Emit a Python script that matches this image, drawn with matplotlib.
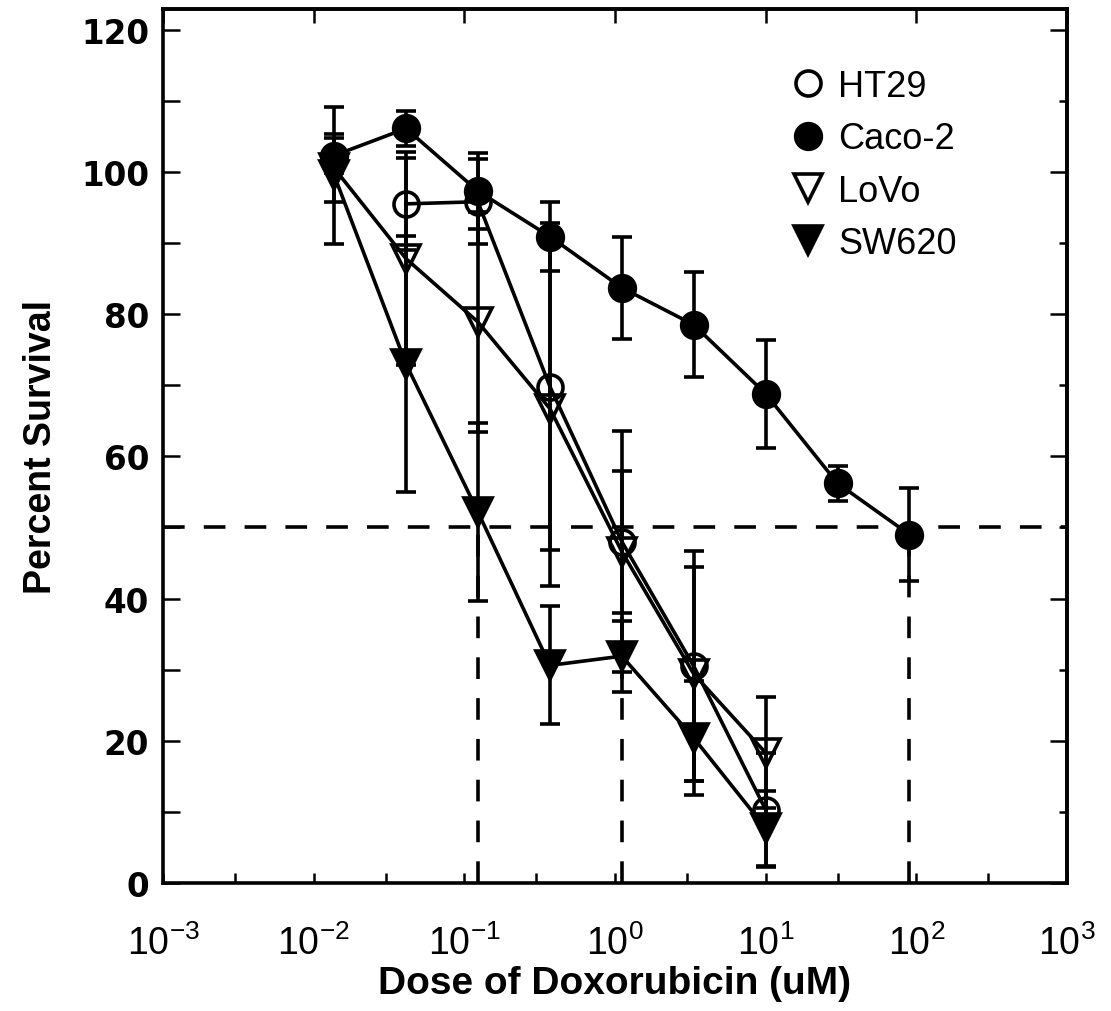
import matplotlib
matplotlib.use("Agg")
import matplotlib.pyplot as plt
from matplotlib.lines import Line2D
from matplotlib.ticker import FixedLocator, FixedFormatter, NullFormatter, NullLocator, MultipleLocator

plt.rcParams['font.family'] = ['Liberation Sans', 'DejaVu Sans']

# dose series (uM), 3-fold dilutions
caco2_x = [0.0137, 0.041, 0.123, 0.37, 1.11, 3.33, 10, 30, 90]
caco2_y = [102.3, 106.1, 97.3, 90.9, 83.7, 78.5, 68.8, 56.2, 49.0]
caco2_err = [2.5, 2.5, 5.4, 4.8, 7.2, 7.4, 7.6, 2.5, 6.6]

ht29_x = [0.041, 0.123, 0.37, 1.11, 3.33, 10]
ht29_y = [95.5, 95.8, 69.8, 48.0, 30.5, 10.3]
ht29_err = [6.5, 6.0, 23.0, 10.0, 16.2, 8.0]

lovo_x = [0.0137, 0.041, 0.123, 0.37, 1.11, 3.33, 10]
lovo_y = [100.5, 87.8, 78.9, 66.7, 46.6, 29.4, 18.3]
lovo_err = [4.8, 15.0, 15.5, 25.0, 17.0, 15.0, 7.8]

sw620_x = [0.0137, 0.041, 0.123, 0.37, 1.11, 3.33, 10]
sw620_y = [99.5, 73.0, 52.2, 30.6, 31.9, 20.4, 7.7]
sw620_err = [9.6, 18.0, 12.5, 8.3, 5.0, 8.0, 5.3]

ic50_level = 50
ic50_x = [0.123, 1.11, 90]

decades = [1e-3, 1e-2, 1e-1, 1e0, 1e1, 1e2, 1e3]
decade_labels = [r'$\mathregular{10^{-3}}$', r'$\mathregular{10^{-2}}$', r'$\mathregular{10^{-1}}$',
                 r'$\mathregular{10^{0}}$', r'$\mathregular{10^{1}}$', r'$\mathregular{10^{2}}$',
                 r'$\mathregular{10^{3}}$']
minor_x = [3e-3, 3e-2, 3e-1, 3e0, 3e1, 3e2]

fig = plt.figure(figsize=(11.11, 10.12), dpi=100)
ax = fig.add_axes([0.1467, 0.1265, 0.8137, 0.8636])

lw = 2.6
dash = (0, (6.0, 5.3))
ax.axhline(ic50_level, color='k', lw=lw, linestyle=dash, zorder=1)
ax.vlines(ic50_x, 0, ic50_level, color='k', lw=lw, linestyles=[dash], zorder=1)

common = dict(color='k', lw=lw, elinewidth=lw, capsize=7.5, capthick=lw, mew=2.6, zorder=3)
ax.errorbar(caco2_x, caco2_y, yerr=caco2_err, marker='o', ms=18.5, mfc='k', mec='k', **common)
ax.errorbar(ht29_x, ht29_y, yerr=ht29_err, marker='o', ms=18, mfc='none', mec='k', **common)
ax.errorbar(lovo_x, lovo_y, yerr=lovo_err, marker='v', ms=20, mfc='none', mec='k', **common)
ax.errorbar(sw620_x, sw620_y, yerr=sw620_err, marker='v', ms=20, mfc='k', mec='k', **common)

ax.set_xscale('log')
ax.set_xlim(1e-3, 1e3)
ax.set_ylim(0, 122.9)

# bottom axis: decades + 3x ticks
ax.xaxis.set_major_locator(FixedLocator(decades))
ax.xaxis.set_major_formatter(FixedFormatter(decade_labels))
ax.xaxis.set_minor_locator(FixedLocator(minor_x))
ax.xaxis.set_minor_formatter(NullFormatter())
ax.tick_params(axis='x', which='both', direction='in', length=7, width=1.8, pad=30, labelsize=27)

# left axis
ax.yaxis.set_major_locator(MultipleLocator(20))
ax.yaxis.set_minor_locator(MultipleLocator(10))
ax.tick_params(axis='y', which='both', direction='in', length=12, width=1.8, pad=10,
               labelsize=23.5, labelfontfamily='DejaVu Sans')
for t in ax.get_yticklabels():
    t.set_fontweight('bold')

# top and right axes
top = ax.secondary_xaxis('top')
top.xaxis.set_major_locator(FixedLocator(decades))
top.xaxis.set_minor_locator(NullLocator())
top.tick_params(axis='x', direction='in', length=10, width=1.8, labeltop=False)
right = ax.secondary_yaxis('right')
right.yaxis.set_major_locator(MultipleLocator(20))
right.yaxis.set_minor_locator(MultipleLocator(10))
right.tick_params(axis='y', which='major', direction='in', length=12, width=1.8, labelright=False)
right.tick_params(axis='y', which='minor', direction='in', length=6, width=1.8)

for a in (ax, top, right):
    for s in a.spines.values():
        s.set_linewidth(2.6)

ax.set_xlabel('Dose of Doxorubicin (uM)', fontsize=28, fontweight='bold', labelpad=2)
ax.set_ylabel('Percent Survival', fontsize=27, fontweight='bold', labelpad=16)

handles = [
    Line2D([], [], ls='none', marker='o', ms=18, mfc='none', mec='k', mew=2.6),
    Line2D([], [], ls='none', marker='o', ms=18.5, mfc='k', mec='k', mew=2.6),
    Line2D([], [], ls='none', marker='v', ms=20, mfc='none', mec='k', mew=2.6),
    Line2D([], [], ls='none', marker='v', ms=20, mfc='k', mec='k', mew=2.6),
]
ax.legend(handles, ['HT29', 'Caco-2', 'LoVo', 'SW620'], loc='upper left',
          bbox_to_anchor=(0.6936, 0.9313), frameon=False, fontsize=26,
          handlelength=1.0, handletextpad=0.33, labelspacing=0.48,
          borderpad=0, borderaxespad=0)

fig.savefig('out.png', dpi=100)
